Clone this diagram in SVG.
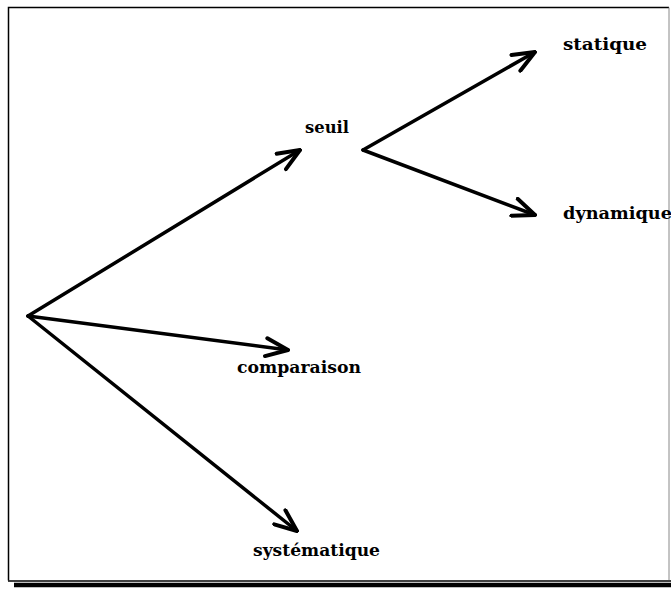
<svg xmlns="http://www.w3.org/2000/svg" width="671" height="589" viewBox="0 0 671 589">
<defs>
<style>
.lbl{font-family:"DejaVu Serif","Liberation Serif",serif;font-weight:bold;font-size:16px;fill:#000}
.edge{stroke:#000;stroke-width:3.5;fill:none;stroke-linecap:round;stroke-linejoin:round}
</style>
<marker id="ah" viewBox="0 0 26 22" refX="24" refY="11" markerWidth="26" markerHeight="22" markerUnits="userSpaceOnUse" orient="auto">
<path d="M2,2 L24,11 L2,20" fill="none" stroke="#000" stroke-width="4" stroke-linecap="round" stroke-linejoin="round"/>
</marker>
</defs>
<rect x="0" y="0" width="671" height="589" fill="#fff"/>
<g id="frame">
<path d="M669,7.5 H8.5 V580.5" fill="none" stroke="#000" stroke-width="1.5"/>
<line x1="669" y1="7.5" x2="669" y2="580" stroke="#888" stroke-width="1"/>
<line x1="8" y1="581" x2="671" y2="581" stroke="#000" stroke-width="1.5"/>
<line x1="14" y1="585" x2="671" y2="585" stroke="#000" stroke-width="4.5"/>
</g>
<g id="connectors">
<line class="edge" x1="28" y1="316" x2="300" y2="150" marker-end="url(#ah)"/>
<line class="edge" x1="28" y1="316" x2="288" y2="350" marker-end="url(#ah)"/>
<line class="edge" x1="28" y1="316" x2="297" y2="531" marker-end="url(#ah)"/>
<line class="edge" x1="363" y1="150" x2="535" y2="52" marker-end="url(#ah)"/>
<line class="edge" x1="363" y1="150" x2="535" y2="215" marker-end="url(#ah)"/>
</g>
<g id="seuil"><text class="lbl" x="305" y="133" textLength="44" lengthAdjust="spacingAndGlyphs">seuil</text></g>
<g id="statique"><text class="lbl" x="563" y="50" textLength="84" lengthAdjust="spacingAndGlyphs">statique</text></g>
<g id="dynamique"><text class="lbl" x="563" y="219" textLength="109" lengthAdjust="spacingAndGlyphs">dynamique</text></g>
<g id="comparaison"><text class="lbl" x="237" y="373" textLength="124" lengthAdjust="spacingAndGlyphs">comparaison</text></g>
<g id="systematique"><text class="lbl" x="253" y="556" textLength="127" lengthAdjust="spacingAndGlyphs">systématique</text></g>
</svg>
